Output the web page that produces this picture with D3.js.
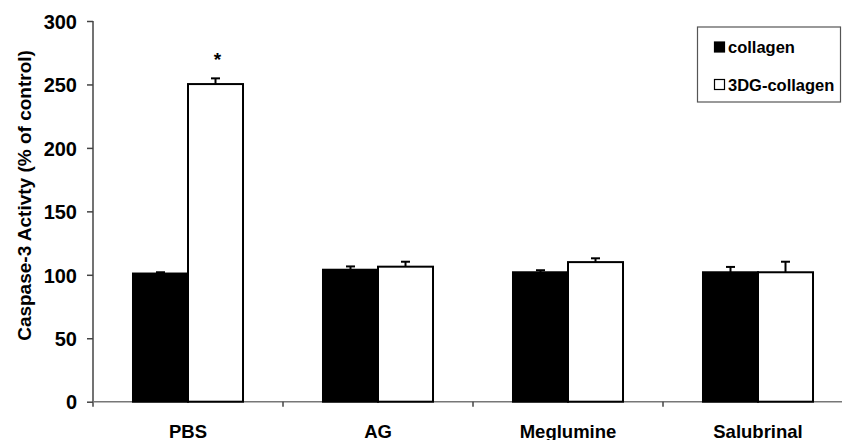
<!DOCTYPE html>
<html>
<head>
<meta charset="utf-8">
<script src="https://cdn.jsdelivr.net/npm/d3@7"></script>
<style>
  html, body { margin: 0; padding: 0; background: #fff; }
  svg { display: block; font-family: Arial, "Liberation Sans", sans-serif; font-weight: bold; }
</style>
</head>
<body>
<svg id="chart" width="842" height="440"></svg>
<script>
const categories = ["PBS", "AG", "Meglumine", "Salubrinal"];
const seriesNames = ["collagen", "3DG-collagen"];
const collagen = [101, 104, 102, 102];
const collagenErr = [1, 2.6, 1.6, 4.2];
const dgCollagen = [250.3, 106.4, 110, 102];
const dgCollagenErr = [4.5, 3.9, 3, 8.3];
const significance = ["*", "", "", ""];
const yTicks = [0, 50, 100, 150, 200, 250, 300];

(function () {
const FONT = 'Arial, "Liberation Sans", sans-serif';
const svg = d3.select("#chart");
const mLeft = 93, mRight = 853, mTop = 21, mBottom = 401.7;

const y = d3.scaleLinear().domain([0, 300]).range([mBottom, mTop]);
const x0 = d3.scaleBand().domain(categories).range([mLeft, mRight]).paddingInner(0).paddingOuter(0);
const x1 = d3.scaleBand().domain(seriesNames).range([0, x0.bandwidth()]).paddingInner(0).paddingOuter(0.727);

const rows = categories.map((c, i) => ({
  cat: c,
  vals: [
    { s: seriesNames[0], v: collagen[i], e: collagenErr[i], fill: "#000" },
    { s: seriesNames[1], v: dgCollagen[i], e: dgCollagenErr[i], fill: "#fff" }
  ],
  sig: significance[i]
}));

// Y axis
const yAxis = d3.axisLeft(y).tickValues(yTicks).tickSize(6).tickPadding(10).tickFormat(d3.format("d"));
const gy = svg.append("g").attr("transform", `translate(${mLeft},0)`).call(yAxis)
  .attr("font-family", FONT).attr("font-size", 20);
gy.select(".domain").attr("stroke", "#444").attr("stroke-width", 1.5).attr("d", `M0,${mTop}V${mBottom + 5}`);
gy.selectAll(".tick line").attr("stroke", "#444").attr("stroke-width", 1.5);
gy.selectAll(".tick text")
  .style("font-size", "20px").style("font-weight", "bold").style("font-family", FONT)
  .attr("fill", "#000").attr("dy", "0.36em");

// X axis
const xAxis = d3.axisBottom(x0).tickSize(0).tickPadding(0);
const gx = svg.append("g").attr("transform", `translate(0,${mBottom})`).call(xAxis)
  .attr("font-family", FONT).attr("font-size", 18.5);
gx.select(".domain").attr("stroke", "#777").attr("stroke-width", 1.5).attr("d", `M${mLeft},0H${mRight}`);
gx.selectAll(".tick text")
  .style("font-size", "18.5px").style("font-weight", "bold").style("font-family", FONT)
  .attr("fill", "#000").attr("y", 36).attr("dy", 0);
gx.selectAll(".sep").data(categories.slice(1)).join("line")
  .attr("class", "sep")
  .attr("x1", d => x0(d)).attr("x2", d => x0(d))
  .attr("y1", 0).attr("y2", 5)
  .attr("stroke", "#444").attr("stroke-width", 1.5);

// Bars
const groups = svg.append("g").selectAll("g").data(rows).join("g")
  .attr("transform", d => `translate(${x0(d.cat)},0)`);

groups.selectAll("rect").data(d => d.vals).join("rect")
  .attr("x", d => x1(d.s))
  .attr("y", d => y(d.v))
  .attr("width", x1.bandwidth())
  .attr("height", d => y(0) - y(d.v))
  .attr("fill", d => d.fill)
  .attr("stroke", "#000")
  .attr("stroke-width", 2);

// Error bars (upper only)
const eb = groups.selectAll("g.err").data(d => d.vals).join("g").attr("class", "err");
eb.append("line")
  .attr("x1", d => x1(d.s) + x1.bandwidth() / 2)
  .attr("x2", d => x1(d.s) + x1.bandwidth() / 2)
  .attr("y1", d => y(d.v))
  .attr("y2", d => y(d.v + d.e))
  .attr("stroke", "#000").attr("stroke-width", 2);
eb.append("line")
  .attr("x1", d => x1(d.s) + x1.bandwidth() / 2 - 4.5)
  .attr("x2", d => x1(d.s) + x1.bandwidth() / 2 + 4.5)
  .attr("y1", d => y(d.v + d.e))
  .attr("y2", d => y(d.v + d.e))
  .attr("stroke", "#000").attr("stroke-width", 2);

// Significance marker
groups.append("text")
  .attr("x", d => x1(seriesNames[1]) + x1.bandwidth() / 2 + 2)
  .attr("y", d => y(d.vals[1].v + d.vals[1].e) - 12)
  .attr("text-anchor", "middle")
  .style("font-size", "19px")
  .text(d => d.sig);

// Y axis title
svg.append("text")
  .attr("transform", `translate(31,195.5) rotate(-90)`)
  .attr("text-anchor", "middle")
  .style("font-size", "19px")
  .text("Caspase-3 Activty (% of control)");

// Legend
const lg = svg.append("g");
lg.append("rect").attr("x", 697.5).attr("y", 27).attr("width", 143).attr("height", 75)
  .attr("fill", "#fff").attr("stroke", "#555").attr("stroke-width", 1.2);
const legendY = [46.5, 84];
const legendFill = ["#000", "#fff"];
seriesNames.forEach((s, i) => {
  lg.append("rect").attr("x", 714.5).attr("y", legendY[i] - 4.5).attr("width", 10).attr("height", 10)
    .attr("fill", legendFill[i]).attr("stroke", "#000").attr("stroke-width", 1.2);
  lg.append("text").attr("x", 728).attr("y", legendY[i] + 6.5)
    .style("font-size", "16.5px").text(s);
});
})();
</script>
</body>
</html>
